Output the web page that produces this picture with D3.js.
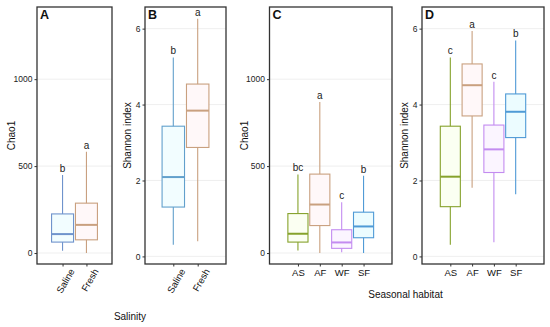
<!DOCTYPE html>
<html>
<head>
<meta charset="utf-8">
<script src="https://cdn.jsdelivr.net/npm/d3@7"></script>
<style>
  body { margin: 0; background: #fff; }
  text { font-family: "Liberation Sans", Arial, sans-serif; }
</style>
</head>
<body>
<div class="chart"></div>
<script>
// box stats: [low whisker, q1, median, q3, high whisker]
const salinityGroups = ["Saline", "Fresh"];
const seasonGroups = ["AS", "AF", "WF", "SF"];

const chaoSalinity = [[13, 63, 109, 225, 449], [0, 76, 162, 287, 583]];
const chaoSalinityLetters = ["b", "a"];
const shannonSalinity = [[0.31, 1.3, 2.09, 3.43, 5.24], [0.4, 2.87, 3.84, 4.54, 6.26]];
const shannonSalinityLetters = ["b", "a"];

const chaoSeason = [[15, 63, 111, 227, 452], [0, 158, 279, 454, 868], [4, 27, 61, 134, 292], [0, 88, 153, 235, 445]];
const chaoSeasonLetters = ["bc", "a", "c", "b"];
const shannonSeason = [[0.31, 1.31, 2.1, 3.43, 5.24], [1.81, 3.7, 4.51, 5.07, 5.94], [0.37, 2.21, 2.82, 3.46, 4.6], [1.64, 3.13, 3.81, 4.28, 5.69]];
const shannonSeasonLetters = ["c", "a", "c", "b"];

const chaoTicks = [0, 500, 1000];
const shannonTicks = [0, 2, 4, 6];

const salinityStroke = ["#6f93cc", "#c9a07f"];
const salinityStrokeB = ["#62a0cc", "#c9a07f"];
const salinityFill = ["#f2fdff", "#fff8f9"];
const seasonStroke = ["#86a22c", "#c9a07f", "#c38cf0", "#4f9ad6"];
const seasonFill = ["#fbfff2", "#fff8f9", "#fbf5ff", "#ecfcff"];

const width = 550, height = 327;
const plotTop = 7, plotBottom = 264;

const svg = d3.select(".chart").append("svg")
  .attr("width", width)
  .attr("height", height);

function drawPanel(p) {
  const g = svg.append("g");
  const y = d3.scaleLinear().domain(p.yDomain).range([plotBottom, plotTop]);
  const x = d3.scalePoint().domain(p.groups).range([p.left, p.right]).padding(p.pad);
  const bw = x.step() * 0.92;

  // gridlines
  g.selectAll(".grid").data(p.ticks).enter().append("line")
    .attr("x1", p.left).attr("x2", p.right)
    .attr("y1", d => y(d)).attr("y2", d => y(d))
    .attr("stroke", "#ebebeb").attr("stroke-width", 0.8);

  // y axis
  const yAxis = g.append("g")
    .attr("transform", "translate(" + p.left + ",0)")
    .call(d3.axisLeft(y).tickValues(p.ticks).tickFormat(d3.format("d")).tickSize(2.5).tickPadding(2));
  yAxis.select(".domain").remove();
  yAxis.selectAll("line").attr("stroke", "#333");
  yAxis.selectAll("text").style("font-size", "8.5px").attr("fill", "#222");

  // x axis
  const xAxis = g.append("g")
    .attr("transform", "translate(0," + plotBottom + ")")
    .call(d3.axisBottom(x).tickSize(2.5).tickPadding(3));
  xAxis.select(".domain").remove();
  xAxis.selectAll("line").attr("stroke", "#333");
  xAxis.selectAll("text").style("font-size", "9.5px").attr("fill", "#111");
  if (p.rotate) {
    xAxis.selectAll("text")
      .attr("text-anchor", "end")
      .attr("dy", "0.5em")
      .attr("transform", "translate(3,2) rotate(-60)");
  }

  // boxes
  const boxes = g.selectAll(".box").data(p.stats).enter().append("g");
  boxes.append("line")
    .attr("x1", (d, i) => x(p.groups[i])).attr("x2", (d, i) => x(p.groups[i]))
    .attr("y1", d => y(d[0])).attr("y2", d => y(d[4]))
    .attr("stroke", (d, i) => p.stroke[i]).attr("stroke-width", 1.1);
  boxes.append("rect")
    .attr("x", (d, i) => x(p.groups[i]) - bw / 2)
    .attr("width", bw)
    .attr("y", d => y(d[3]))
    .attr("height", d => y(d[1]) - y(d[3]))
    .attr("fill", (d, i) => p.fill[i])
    .attr("stroke", (d, i) => p.stroke[i]).attr("stroke-width", 1.1);
  boxes.append("line")
    .attr("x1", (d, i) => x(p.groups[i]) - bw / 2).attr("x2", (d, i) => x(p.groups[i]) + bw / 2)
    .attr("y1", d => y(d[2])).attr("y2", d => y(d[2]))
    .attr("stroke", (d, i) => p.stroke[i]).attr("stroke-width", 2);

  // significance letters
  g.selectAll(".sig").data(p.stats).enter().append("text")
    .attr("x", (d, i) => x(p.groups[i]))
    .attr("y", d => y(d[4]) - 3)
    .attr("text-anchor", "middle")
    .style("font-size", "10px")
    .attr("fill", "#222")
    .text((d, i) => p.letters[i]);

  // panel frame
  g.append("rect")
    .attr("x", p.left).attr("y", plotTop)
    .attr("width", p.right - p.left).attr("height", plotBottom - plotTop)
    .attr("fill", "none").attr("stroke", "#333").attr("stroke-width", 1.3);

  // panel letter
  g.append("text")
    .attr("x", p.left + 3).attr("y", plotTop + 12)
    .style("font-size", "12.5px").style("font-weight", "bold")
    .attr("fill", "#111")
    .text(p.tag);

  // y title
  g.append("text")
    .attr("transform", "translate(" + p.titleX + "," + ((plotTop + plotBottom) / 2) + ") rotate(-90)")
    .attr("text-anchor", "middle")
    .style("font-size", "10px")
    .attr("fill", "#111")
    .text(p.yTitle);
}

drawPanel({ tag: "A", left: 37, right: 112, pad: 1.07, groups: salinityGroups, stats: chaoSalinity,
  letters: chaoSalinityLetters, stroke: salinityStroke, fill: salinityFill, yDomain: [-63, 1415],
  ticks: chaoTicks, yTitle: "Chao1", titleX: 15, rotate: true });
drawPanel({ tag: "B", left: 145, right: 226, pad: 1.16, groups: salinityGroups, stats: shannonSalinity,
  letters: shannonSalinityLetters, stroke: salinityStrokeB, fill: salinityFill, yDomain: [-0.2, 6.57],
  ticks: shannonTicks, yTitle: "Shannon index", titleX: 131, rotate: true });
drawPanel({ tag: "C", left: 269.5, right: 392, pad: 1.3, groups: seasonGroups, stats: chaoSeason,
  letters: chaoSeasonLetters, stroke: seasonStroke, fill: seasonFill, yDomain: [-63, 1415],
  ticks: chaoTicks, yTitle: "Chao1", titleX: 248, rotate: false });
drawPanel({ tag: "D", left: 422, right: 544, pad: 1.3, groups: seasonGroups, stats: shannonSeason,
  letters: shannonSeasonLetters, stroke: seasonStroke, fill: seasonFill, yDomain: [-0.2, 6.57],
  ticks: shannonTicks, yTitle: "Shannon index", titleX: 408, rotate: false });

// shared x titles
svg.append("text")
  .attr("x", 130).attr("y", 320)
  .attr("text-anchor", "middle")
  .style("font-size", "10px").attr("fill", "#111")
  .text("Salinity");
svg.append("text")
  .attr("x", 405.5).attr("y", 298)
  .attr("text-anchor", "middle")
  .style("font-size", "10px").attr("fill", "#111")
  .text("Seasonal habitat");
</script>
</body>
</html>
